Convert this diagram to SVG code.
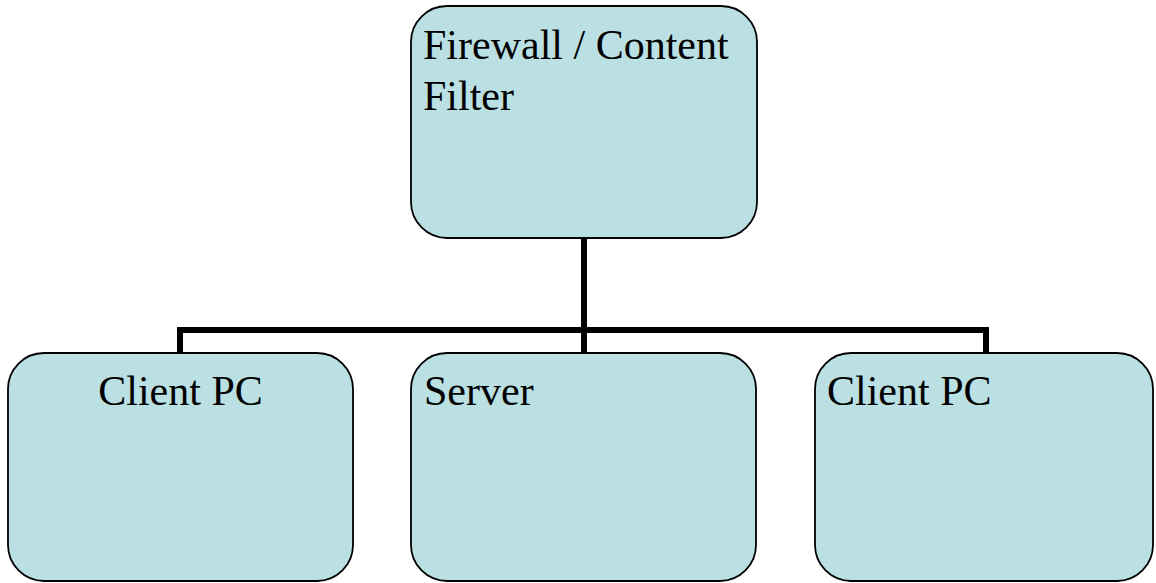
<svg xmlns="http://www.w3.org/2000/svg" width="1156" height="583" viewBox="0 0 1156 583">
<style>
.box{fill:#BAE0E3;stroke:#000;stroke-width:1.8}
.lbl{font-family:"Liberation Serif","Times New Roman",serif;font-size:42px;fill:#000}
.conn{fill:none;stroke:#000;stroke-width:6}
</style>
<rect width="1156" height="583" fill="#fff"/>
<g id="connectors">
<path class="conn" d="M584 238V330M180 353V330H986V353M584 330V353"/>
</g>
<g id="firewall">
<rect class="box" x="411" y="6" width="346" height="232" rx="36" ry="36"/>
<text class="lbl" x="423" y="59">Firewall / Content</text>
<text class="lbl" x="423" y="110">Filter</text>
</g>
<g id="client1">
<rect class="box" x="8" y="353" width="345" height="228" rx="36" ry="36"/>
<text class="lbl" x="180.5" y="405" text-anchor="middle">Client PC</text>
</g>
<g id="server">
<rect class="box" x="411" y="353" width="345" height="228" rx="36" ry="36"/>
<text class="lbl" x="424" y="405">Server</text>
</g>
<g id="client2">
<rect class="box" x="815" y="353" width="338" height="228" rx="36" ry="36"/>
<text class="lbl" x="827" y="405">Client PC</text>
</g>
</svg>
